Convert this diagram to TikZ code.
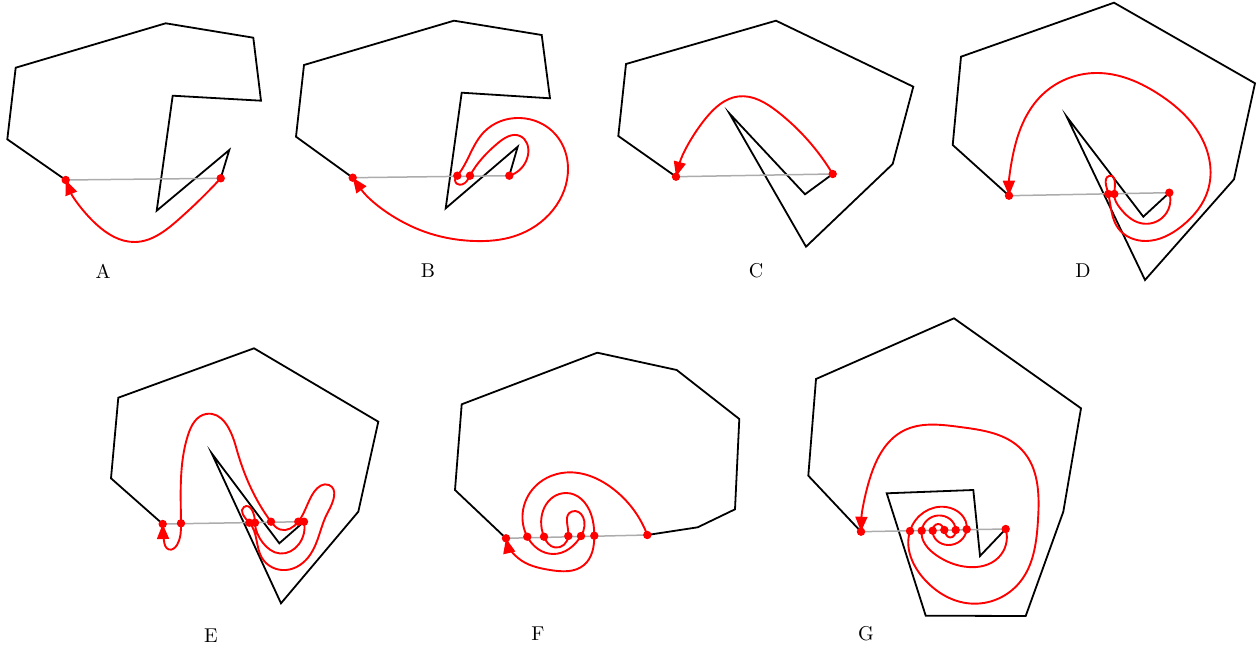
\documentclass[tikz,border=0pt]{standalone}
\usepackage{xcolor}
\usepackage{tikz}
\usetikzlibrary{arrows.meta, hobby}

% red points on the cut segment
\newcommand\cutpts[1]{\foreach \p in {#1} \fill[red] (\p) circle[radius=4.2];}

\begin{document}
\begin{tikzpicture}[x=0.5pt,y=-0.5pt,
    poly/.style={line width=0.9pt,line join=miter},
    seg/.style={gray!65,line width=0.75pt},
    walk/.style={red,line width=0.95pt,use Hobby shortcut,-{Triangle[length=7.5pt,width=6pt]}}]
  \useasboundingbox (0,0) rectangle (1258,646);

  % ---------- A
  \coordinate (aL) at (65.7,180); \coordinate (aR) at (220.7,178.3);
  \draw[poly] (aR) -- (229.3,150) -- (156.7,210.7) -- (172.7,95.7) -- (261,100.7) -- (253.3,37.7)
    -- (165.7,23.3) -- (15.7,67.7) -- (7.3,139.3) -- (aL);
  \draw[seg] (aL) -- (aR);
  \draw[walk] (aR) .. (178,220) .. (135,242) .. (96,224) .. (aL);
  \cutpts{aL,aR}
  \node (labA) at (103,271) {A};

  % ---------- B
  \coordinate (bL) at (352.7,177.7); \coordinate (bR) at (509.3,175.7);
  \coordinate (b1) at (457.3,175.7); \coordinate (b2) at (470,175.7);
  \draw[poly] (bR) -- (517.7,146.7) -- (445.7,208.3) -- (461.7,92.7) -- (550,98.3) -- (541.7,35)
    -- (454,20.7) -- (304,65) -- (296,136.7) -- (bL);
  \draw[seg] (bL) -- (bR);
  \draw[walk] (bR) .. (528,155) .. (520,136) .. (498,143) .. (b2) .. (462,184.5) .. (455,180)
    .. (b1) .. (484,132) .. (520,118) .. (556,135) .. (568,168) .. (553,210) .. (515,236)
    .. (474,241) .. (420,230) .. (bL);
  \cutpts{bL,bR,b1,b2}
  \node (labB) at (428,271) {B};

  % ---------- C
  \coordinate (cL) at (676,176.7); \coordinate (cR) at (832.7,174);
  \draw[poly] (cR) -- (805,194.3) -- (729.3,113.3) -- (806,246.7) -- (892.7,164) -- (913.3,86.7)
    -- (776,20.7) -- (626,64) -- (618.3,136) -- (cL);
  \draw[seg] (cL) -- (cR);
  \draw[walk] (cR) .. (778,112) .. (738,96.5) .. (706,118) .. (cL);
  \cutpts{cL,cR}
  \node (labC) at (756,271) {C};

  % ---------- D
  \coordinate (dL) at (1009,195.7); \coordinate (dR) at (1169.3,192.7);
  \coordinate (d1) at (1108.3,194); \coordinate (d2) at (1114.3,194);
  \draw[poly] (dR) -- (1143.3,216.7) -- (1066.7,116.7) -- (1145,280) -- (1234,179.3) -- (1255,83.3)
    -- (1114,2.7) -- (961,56.7) -- (952.7,145) -- (dL);
  \draw[seg] (dL) -- (dR);
  \draw[walk] (dR) .. (1162,218) .. (1140,223) .. (1120,208) .. (d2) .. (1109,176) .. (1106,185)
    .. (d1) .. (1118,228) .. (1146,241) .. (1182,226) .. (1208,190) .. (1200,135) .. (1160,95)
    .. (1096,73) .. (1042,95) .. (1014,150) .. (dL);
  \cutpts{dL,dR,d1,d2}
  \node (labD) at (1083,271) {D};

  % ---------- E
  \coordinate (eL) at (162.7,524); \coordinate (eR) at (304,521.7);
  \coordinate (e1) at (181,523.3); \coordinate (e2) at (249.3,522.7); \coordinate (e3) at (255,522.7);
  \coordinate (e4) at (271,521.7); \coordinate (e5) at (298.3,521.7);
  \draw[poly] (eR) -- (279.3,543.3) -- (211.7,453.3) -- (281,603.3) -- (358.3,511.7) -- (378.3,421.7)
    -- (254,348.3) -- (118.3,397.7) -- (111,478.3) -- (eL);
  \draw[seg] (eL) -- (eR);
  \draw[walk] (eR) .. (299,544) .. (280,553.5) .. (263,543) .. (e3) .. (244,507) .. (e2)
    .. (262,558) .. (286,570) .. (310,555) .. (328,512) .. (329,485) .. (314,492) .. (e5)
    .. (280,529.5) .. (e4) .. (236,447) .. (206,414) .. (188,435) .. (e1) .. (177,545)
    .. (169,549.5) .. (164,541) .. (eL);
  \cutpts{eL,eR,e1,e2,e3,e4,e5}
  \node (labE) at (211,636) {E};

  % ---------- F
  \coordinate (fL) at (506,538.3); \coordinate (fR) at (647.3,535);
  \coordinate (f1) at (527.3,536.7); \coordinate (f2) at (544,536.7); \coordinate (f3) at (568.3,536);
  \coordinate (f4) at (581,536); \coordinate (f5) at (594.3,535.7);
  \draw[poly] (fR) -- (697.7,527.3) -- (735,509.3) -- (739.3,419) -- (676.7,370) -- (597.3,352.7)
    -- (461.7,404.3) -- (455,490) -- (fL);
  \draw[seg] (fL) -- (fR);
  \draw[walk] (fR) .. (612,488) .. (566,472.5) .. (532,490) .. (f1) .. (553,554) .. (f4)
    .. (572,511.5) .. (f3) .. (555,547.5) .. (f2) .. (566,493) .. (591,514) .. (f5)
    .. (584,565) .. (550,570) .. (518,558) .. (fL);
  \cutpts{fL,fR,f1,f2,f3,f4,f5}
  \node (labF) at (538,634) {F};

  % ---------- G
  \coordinate (gL) at (861,531.7); \coordinate (gR) at (1005.7,529);
  \coordinate (g1) at (910,531); \coordinate (g2) at (921.7,530.7); \coordinate (g3) at (932.7,530.7);
  \coordinate (g4) at (944.3,530); \coordinate (g5) at (955.7,530); \coordinate (g6) at (966.7,529.3);
  \draw[poly] (gR) -- (980,556) -- (973.3,490) -- (886.7,493.3) -- (925.7,615.7) -- (1025.7,616)
    -- (1063.3,511.7) -- (1081,408.3) -- (954,318.3) -- (816,379) -- (808.3,475.7) -- (gL);
  \draw[seg] (gL) -- (gR);
  \draw[walk] (gR) .. (998,558) .. (968,567) .. (936,555) .. (g2) .. (938,515.5) .. (g5)
    .. (950,537.5) .. (g4) .. (938,524) .. (g3) .. (948,545) .. (g6) .. (946,507) .. (g1)
    .. (925,580) .. (970,603.5) .. (1020,582) .. (1038,520) .. (1022,450) .. (960,427)
    .. (903,431) .. (870,478) .. (gL);
  \cutpts{gL,gR,g1,g2,g3,g4,g5,g6}
  \node (labG) at (866,634) {G};
\end{tikzpicture}
\end{document}
